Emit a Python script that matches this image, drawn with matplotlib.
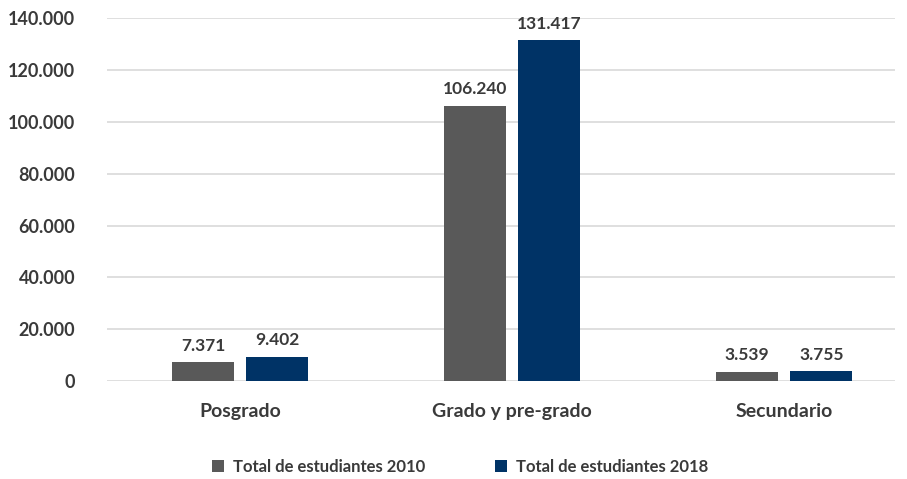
import matplotlib.pyplot as plt
import numpy as np

plt.rcParams['font.family'] = ['Lato', 'DejaVu Sans']

categorias = ['Posgrado', 'Grado y pre-grado', 'Secundario']
est_2010 = [7371, 106240, 3539]
est_2018 = [9402, 131417, 3755]
etiquetas_2010 = ['7.371', '106.240', '3.539']
etiquetas_2018 = ['9.402', '131.417', '3.755']
yticks = [0, 20000, 40000, 60000, 80000, 100000, 120000, 140000]
ytick_labels = ['0', '20.000', '40.000', '60.000', '80.000', '100.000', '120.000', '140.000']

gris = '#595959'
azul = '#003366'
texto = '#3a3a3a'

fig = plt.figure(figsize=(9.07, 4.79), dpi=100)
ax = fig.add_axes([0.118, 0.2046, 0.869, 0.7574])

x = np.arange(len(categorias))
w = 0.228
off = 0.136
b1 = ax.bar(x - off, est_2010, w, color=gris, label='Total de estudiantes 2010', zorder=3)
b2 = ax.bar(x + off, est_2018, w, color=azul, label='Total de estudiantes 2018', zorder=3)

for bars, labs in ((b1, etiquetas_2010), (b2, etiquetas_2018)):
    for b, t in zip(bars, labs):
        ax.annotate(t, (b.get_x() + b.get_width() / 2, b.get_height()),
                    xytext=(0, 6), textcoords='offset points', ha='center', va='bottom',
                    fontsize=12.5, fontweight='bold', color=texto)

ax.set_ylim(0, 140000)
ax.set_xlim(-0.489, 2.408)
ax.set_yticks(yticks)
ax.set_yticklabels(ytick_labels, fontsize=13, fontweight='bold', color=texto)
ax.set_xticks(x)
ax.set_xticklabels(categorias, fontsize=14, fontweight='bold', color=texto)
ax.tick_params(axis='both', length=0)
ax.tick_params(axis='y', pad=23)
ax.tick_params(axis='x', pad=16)
ax.yaxis.grid(True, color='#d9d9d9', linewidth=1.2, zorder=0)
for s in ax.spines.values():
    s.set_visible(False)

fig.legend(handles=[b1, b2], loc='center', bbox_to_anchor=(0.507, 0.026), ncol=2,
           frameon=False, handlelength=0.75, handleheight=0.75, columnspacing=4.2,
           handletextpad=0.5, prop={'size': 12, 'weight': 'bold'}, labelcolor=texto)

fig.savefig('out.png', dpi=100)
